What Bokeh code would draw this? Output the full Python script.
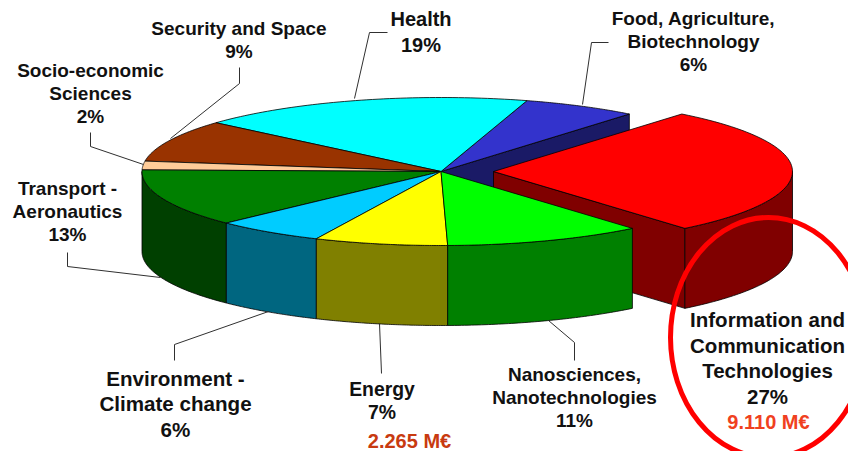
import numpy as np
from bokeh.plotting import figure
from bokeh.models import Range1d, ColumnDataSource
from bokeh.core.properties import value
from bokeh.embed import file_html
from bokeh.resources import INLINE

# --- data -----------------------------------------------------------------
themes = ["ICT", "Food", "Health", "Security", "Socio", "Transport", "Environment", "Energy", "Nano"]
shares = [28.1, 6.2, 18.2, 9.2, 1.9, 12.6, 5.9, 7.2, 10.7]
top_colors = ["#FF0000", "#3333CC", "#00FFFF", "#993300", "#FFCC99", "#008000", "#00CCFF", "#FFFF00", "#00FF00"]
side_colors = ["#800000", "#1A1A66", "#008080", "#4D1A00", "#806633", "#004000", "#006680", "#808000", "#008000"]
start_angle = -50.2

line_texts = ["Security and Space", "9%", "Socio-economic", "Sciences", "2%", "Health", "19%",
              "Food, Agriculture,", "Biotechnology", "6%", "Transport -", "Aeronautics", "13%",
              "Environment -", "Climate change", "6%", "Energy", "7%",
              "Nanosciences,", "Nanotechnologies", "11%",
              "Information and", "Communication", "Technologies", "27%"]
line_x = [238.5, 238.5, 90, 90, 90, 420.5, 420.5, 693, 693, 693, 67, 67, 67,
          175, 175, 175, 381.5, 381.5, 574, 574, 574, 767, 767, 767, 767]
line_y = [28, 51, 70, 93, 116, 18, 44, 18, 41, 64, 188, 211, 234,
          378, 403, 429, 388, 411, 374, 397, 420, 319, 345, 370, 396]
line_size = ["19px"] * 5 + ["20px"] * 2 + ["19px"] * 6 + ["20.6px"] * 3 + ["19.4px"] * 2 \
            + ["19px"] * 3 + ["20.5px"] * 4

money_texts = ["2.265 M€", "9.110 M€"]
money_x = [409, 768]
money_y = [440, 421]
money_colors = ["#C83A10", "#F04020"]

leader_xs = [[608, 591, 582], [387, 369, 354], [239, 239, 170], [90, 90, 143],
             [67, 67, 160], [174, 174, 268], [381, 379], [574, 574, 548]]
leader_ys = [[42, 42, 104], [32, 32, 98], [67, 83, 138], [132, 146, 164],
             [252, 266, 277], [360, 344, 311], [373, 323], [360, 342, 320]]

# --- pie geometry ---------------------------------------------------------
CX, CY, RX, RY, DEPTH, EXPLODE = 440.5, 171.0, 299.0, 74.0, 80.0, 52.5


def rim(a0, a1, cx, n=60):
    t = np.radians(np.linspace(a0, a1, n))
    return cx + RX * np.cos(t), CY - RY * np.sin(t)


def top_poly(a0, a1, cx):
    x, y = rim(a0, a1, cx)
    return np.r_[cx, x].tolist(), np.r_[CY, y].tolist()


def side_poly(a0, a1, cx):
    # outer wall of the cylinder between two angles
    x, y = rim(a0, a1, cx)
    return np.r_[x, x[::-1]].tolist(), np.r_[y, y[::-1] + DEPTH].tolist()


def wall_poly(a, cx):
    # radial cut face from the centre to the rim
    x, y = rim(a, a, cx, 1)
    return [cx, x[0], x[0], cx], [CY, y[0], y[0] + DEPTH, CY + DEPTH]


edges = start_angle + np.r_[0, np.cumsum(shares)] * 360.0 / sum(shares)

p = figure(width=848, height=451, output_backend="svg", toolbar_location=None,
           x_range=Range1d(0, 848), y_range=Range1d(451, 0),
           min_border=0, outline_line_color=None, background_fill_color="white")
p.xaxis.visible = False
p.yaxis.visible = False
p.grid.visible = False

LW = 0.8


def draw(poly, color):
    p.patch(poly[0], poly[1], fill_color=color, line_color="black", line_width=LW)


# face of the pie left bare by the exploded slice
draw(wall_poly(edges[1], CX), side_colors[1])

# exploded slice
rx = CX + EXPLODE
draw(wall_poly(edges[0], rx), side_colors[0])
draw(side_poly(edges[0], 0.0, rx), side_colors[0])
draw(top_poly(edges[0], edges[1], rx), top_colors[0])

# outer walls of the remaining slices (front half only)
for i in range(1, len(shares)):
    a0, a1 = edges[i], edges[i + 1]
    lo, hi = max(a0, 180.0), min(a1, 360.0)
    if hi > lo:
        draw(side_poly(lo, hi, CX), side_colors[i])

# top faces
for i in range(1, len(shares)):
    draw(top_poly(edges[i], edges[i + 1], CX), top_colors[i])

# leader lines
p.multi_line(leader_xs, leader_ys, line_color="#303030", line_width=1)

# highlight ring
p.ellipse(x=[768], y=[337], width=[196], height=[240], fill_color=None,
          line_color="#FF0000", line_width=5)

# labels
src = ColumnDataSource(dict(x=line_x, y=line_y, t=line_texts, s=line_size))
p.text("x", "y", text="t", source=src, text_font=value("Liberation Sans"), text_font_style="bold",
       text_font_size="s", text_align="center", text_baseline="middle", text_color="#111111")
msrc = ColumnDataSource(dict(x=money_x, y=money_y, t=money_texts, c=money_colors))
p.text("x", "y", text="t", text_color="c", source=msrc, text_font=value("Liberation Sans"),
       text_font_style="bold", text_font_size="20px", text_align="center", text_baseline="middle")

open("out.html", "w").write(file_html(p, INLINE))
